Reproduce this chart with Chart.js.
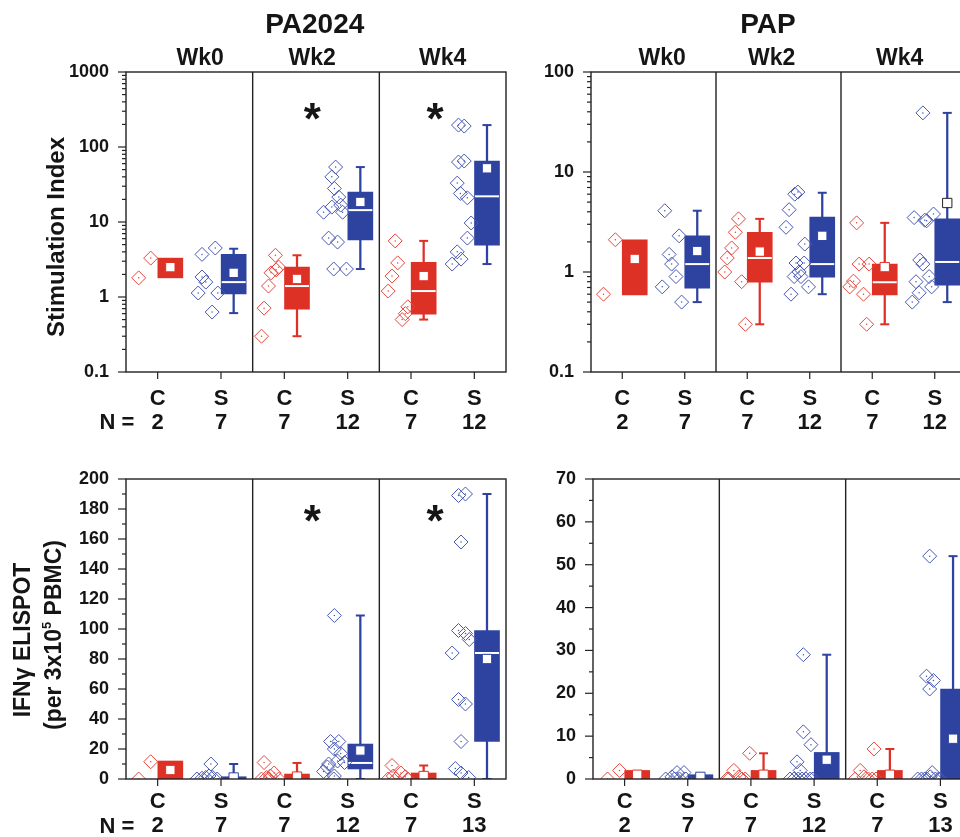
<!DOCTYPE html>
<html>
<head>
<meta charset="utf-8">
<script src="https://cdn.jsdelivr.net/npm/chart.js@4.4.1/dist/chart.umd.min.js"></script>
<style>
  html, body { margin: 0; padding: 0; background: #fff; }
  body { position: relative; width: 960px; height: 837px; overflow: hidden; }
  canvas { position: absolute; }
</style>
</head>
<body>
<canvas id="siPa" width="520" height="440" style="left:0;top:0"></canvas>
<canvas id="siPap" width="470" height="440" style="left:510px;top:0"></canvas>
<canvas id="elPa" width="520" height="407" style="left:0;top:430px"></canvas>
<canvas id="elPap" width="470" height="407" style="left:510px;top:430px"></canvas>
<script>
// columns, left to right: C Wk0, S Wk0, C Wk2, S Wk2, C Wk4, S Wk4
const groups = ["C", "S", "C", "S", "C", "S"];
const weeks = ["Wk0", "Wk2", "Wk4"];
const nTop = [2, 7, 7, 12, 7, 12];
const nBottom = [2, 7, 7, 12, 7, 13];

// PA2024 stimulation index
const siPaPts = [
  [1.8, 3.3],
  [3.7, 4.5, 1.85, 1.58, 1.13, 1.13, 0.63],
  [3.6, 2.5, 2.1, 2.3, 1.4, 0.71, 0.3],
  [54, 40, 28, 21.5, 15.8, 16.8, 13.5, 13.5, 6.1, 5.4, 2.36, 2.36],
  [5.6, 2.85, 1.9, 1.2, 0.74, 0.6, 0.5],
  [196, 190, 63, 65, 33, 24, 21, 9.7, 6.1, 4.0, 3.2, 2.75],
];
const siPaJit = [
  [-0.3, -0.11],
  [-0.3, -0.09, -0.3, -0.24, -0.36, -0.05, -0.14],
  [-0.14, -0.09, -0.21, -0.13, -0.25, -0.32, -0.36],
  [-0.19, -0.25, -0.21, -0.14, -0.25, -0.11, -0.38, -0.08, -0.3, -0.16, -0.22, -0.02],
  [-0.25, -0.21, -0.3, -0.36, -0.05, -0.09, -0.14],
  [-0.25, -0.16, -0.25, -0.16, -0.27, -0.22, -0.11, -0.05, -0.11, -0.27, -0.21, -0.35],
];
const siPaQ1 = [1.8, 1.1, 0.69, 5.75, 0.59, 4.9];
const siPaQ3 = [3.3, 3.7, 2.5, 25, 2.9, 65];
const siPaMed = [null, 1.58, 1.4, 14.4, 1.2, 22];
const siPaMean = [2.5, 2.1, 1.74, 18.5, 1.9, 52];
const siPaLo = [null, 0.61, 0.3, 2.36, 0.5, 2.75];
const siPaHi = [null, 4.4, 3.6, 54, 5.6, 196];

// PAP stimulation index
const siPapPts = [
  [0.6, 2.1],
  [4.1, 2.3, 1.5, 1.2, 0.9, 0.71, 0.5],
  [3.4, 2.5, 1.74, 1.38, 1.0, 0.8, 0.3],
  [6.3, 6.0, 4.2, 2.8, 1.9, 1.23, 1.23, 0.9, 0.9, 0.6, 0.71, 1.0],
  [3.1, 1.2, 1.2, 0.81, 0.71, 0.6, 0.3],
  [39, 3.5, 3.25, 3.8, 1.32, 1.2, 0.8, 0.9, 0.62, 0.71, 0.5, 3.3],
];
const siPapJit = [
  [-0.3, -0.11],
  [-0.32, -0.09, -0.25, -0.21, -0.14, -0.36, -0.05],
  [-0.14, -0.19, -0.25, -0.32, -0.36, -0.09, -0.03],
  [-0.19, -0.24, -0.33, -0.38, -0.08, -0.22, -0.09, -0.25, -0.14, -0.3, -0.02, -0.17],
  [-0.25, -0.21, -0.05, -0.3, -0.36, -0.14, -0.09],
  [-0.19, -0.33, -0.13, -0.02, -0.24, -0.19, -0.3, -0.09, -0.25, -0.05, -0.36, -0.16],
];
const siPapQ1 = [0.59, 0.69, 0.79, 0.89, 0.59, 0.74];
const siPapQ3 = [2.1, 2.3, 2.5, 3.55, 1.2, 3.4];
const siPapMed = [null, 1.2, 1.38, 1.2, 0.79, 1.26];
const siPapMean = [1.35, 1.62, 1.6, 2.3, 1.12, 4.9];
const siPapLo = [null, 0.5, 0.3, 0.6, 0.3, 0.5];
const siPapHi = [null, 4.1, 3.4, 6.2, 3.1, 39];

// PA2024 IFN-gamma ELISPOT
const elPaPts = [
  [0, 11.5],
  [10, 0, 0.5, 1, 2, 1, 0],
  [11, 4, 2, 0, 0, 0, 1],
  [109, 25, 25, 20, 17, 12, 10, 11, 5, 2, 0, 8],
  [9, 4, 0, 0, 1.5, 0, 2],
  [189, 190, 158, 99, 97, 93, 84, 53, 50, 25, 7, 4, 1],
];
const elPaJit = [
  [-0.3, -0.11],
  [-0.16, -0.38, -0.3, -0.24, -0.19, -0.13, -0.06],
  [-0.32, -0.16, -0.22, -0.36, -0.24, -0.09, -0.28],
  [-0.21, -0.27, -0.14, -0.21, -0.11, -0.16, -0.3, -0.05, -0.38, -0.21, -0.22, -0.32],
  [-0.3, -0.16, -0.36, -0.24, -0.09, -0.05, -0.28],
  [-0.25, -0.14, -0.21, -0.25, -0.14, -0.08, -0.35, -0.25, -0.14, -0.21, -0.3, -0.21, -0.09],
];
const elPaQ1 = [0, 0, 0, 6.7, 0, 25];
const elPaQ3 = [12, 1.5, 3.3, 23.3, 4, 99];
const elPaMed = [null, 0, 0, 10.7, 0, 84];
const elPaMean = [6, 1, 1.6, 19, 2, 80];
const elPaLo = [null, 0, 0, 0, 0, 0];
const elPaHi = [null, 10, 10.7, 109, 9, 190];

// PAP IFN-gamma ELISPOT
const elPapPts = [
  [0, 2],
  [0, 0.5, 0, 1.5, 0, 1.5, 0],
  [6, 2, 0, 0.5, 0, 0, 0],
  [29, 11, 8, 4, 2, 0, 0, 0, 0, 0, 0, 0],
  [7, 2, 0, 0.5, 0, 0, 0],
  [52, 24, 23, 21, 1.5, 0, 0, 0, 0, 0.5, 0, 0, 0],
];
const elPapJit = [
  [-0.27, -0.08],
  [-0.35, -0.25, -0.21, -0.17, -0.13, -0.06, -0.03],
  [-0.02, -0.27, -0.35, -0.19, -0.09, -0.14, -0.38],
  [-0.17, -0.17, -0.05, -0.27, -0.22, -0.38, -0.32, -0.25, -0.19, -0.13, -0.06, -0.02],
  [-0.05, -0.27, -0.35, -0.21, -0.14, -0.08, -0.02],
  [-0.17, -0.22, -0.11, -0.17, -0.13, -0.36, -0.3, -0.25, -0.21, -0.16, -0.08, -0.03, 0],
];
const elPapQ1 = [0, 0, 0, 0, 0, 0];
const elPapQ3 = [2, 1, 2, 6.2, 2, 21];
const elPapMed = [null, 0, 0, 0, 0, 0];
const elPapMean = [1, 0.5, 1, 4.5, 1, 9.4];
const elPapLo = [null, null, 0, 0, 0, 0];
const elPapHi = [null, null, 6, 29, 7, 52];

const FONT = '"Liberation Sans", Arial, Helvetica, sans-serif';
const INK = "#151515";
const RED = "#de3126";
const BLUE = "#2e43a0";
const RED_PT = "#e8453b";
const BLUE_PT = "#4657b3";
const tickAt = [0.5, 1.5, 2.5, 3.5, 4.5, 5.5];
const BOX_SHIFT = 0.2;

const side = (c) => (c.raw && Math.floor(c.raw.x) % 2 === 1 ? 1 : 0);
const boxCol = (c) => [RED, BLUE][side(c)];
const ptCol = (c) => [RED_PT, BLUE_PT][side(c)];

function logTicks(min, max) {
  const out = [];
  for (let e = Math.round(Math.log10(min)); e < Math.round(Math.log10(max)); e++) {
    for (let m = 1; m <= 9; m++) out.push(Number((m * Math.pow(10, e)).toPrecision(6)));
  }
  out.push(max);
  return out;
}
function linTicks(max, step) {
  const out = [];
  for (let v = 0; v <= max; v += step) out.push(v);
  return out;
}
const isPow10 = (v) => Math.abs(Math.log10(v) - Math.round(Math.log10(v))) < 1e-9;

function inkText(ctx, text, x, cy, size) {
  ctx.font = `bold ${size}px ${FONT}`;
  ctx.textAlign = "center";
  ctx.textBaseline = "alphabetic";
  const m = ctx.measureText(text);
  ctx.fillText(text, x, cy + (m.actualBoundingBoxAscent - m.actualBoundingBoxDescent) / 2);
}

// text runs with a superscript, centred on (0,0) in the current frame
function supText(ctx, runs, size) {
  let w = 0;
  runs.forEach((r) => {
    ctx.font = `bold ${r.sup ? Math.round(size * 0.55) : size}px ${FONT}`;
    r.w = ctx.measureText(r.t).width;
    w += r.w;
  });
  let x = -w / 2;
  ctx.textAlign = "left";
  ctx.textBaseline = "alphabetic";
  runs.forEach((r) => {
    ctx.font = `bold ${r.sup ? Math.round(size * 0.55) : size}px ${FONT}`;
    ctx.fillText(r.t, x, size * 0.3 + (r.sup ? -size * 0.42 : 0));
    x += r.w;
  });
}

const decor = {
  id: "decor",
  afterDatasetsDraw(chart, args, o) {
    const { ctx, chartArea: a } = chart;
    const x = chart.scales.x;
    const y = chart.scales.y;
    const line = (x1, y1, x2, y2) => {
      ctx.beginPath();
      ctx.moveTo(x1, y1);
      ctx.lineTo(x2, y2);
      ctx.stroke();
    };
    ctx.save();
    ctx.strokeStyle = "#222";
    ctx.lineWidth = 1.4;
    [2, 4].forEach((v) => {
      const px = x.getPixelForValue(v);
      line(px, a.top, px, a.bottom);
    });
    ctx.strokeRect(a.left, a.top, a.right - a.left, a.bottom - a.top);
    ctx.lineWidth = 1.2;
    y.ticks.forEach((t) => {
      const py = y.getPixelForValue(t.value);
      const len = t.label !== "" ? 8 : 4;
      line(a.left - len, py, a.left, py);
    });
    x.ticks.forEach((t) => {
      const px = x.getPixelForValue(t.value);
      line(px, a.bottom, px, a.bottom + 7);
    });

    ctx.fillStyle = INK;
    if (o.title) inkText(ctx, o.title, x.getPixelForValue(o.titleAt), o.titleY, 28);
    if (o.weekAt) weeks.forEach((w, i) => inkText(ctx, w, x.getPixelForValue(o.weekAt[i]), o.weekY, 23));
    (o.stars || []).forEach((v) => inkText(ctx, "*", x.getPixelForValue(v), o.starY, 44));
    if (o.nLabel) inkText(ctx, "N =", o.nLabel[0], o.nLabel[1], 22);
    (o.yTitle || []).forEach((t) => {
      ctx.save();
      ctx.translate(t.x, t.y);
      ctx.rotate(-Math.PI / 2);
      if (t.runs) supText(ctx, t.runs, t.size);
      else inkText(ctx, t.text, 0, 0, t.size);
      ctx.restore();
    });
    ctx.restore();
  },
};

function panel(id, p) {
  const idx = [0, 1, 2, 3, 4, 5];
  const cx = (i) => tickAt[i] + BOX_SHIFT;
  const hasW = (i) => p.lo[i] !== null;

  const whiskers = idx.filter(hasW).map((i) => ({ x: cx(i), y: [p.lo[i], p.hi[i]] }));
  const caps = [];
  idx.filter(hasW).forEach((i) => {
    if (p.hi[i] > p.q3[i]) caps.push({ x: cx(i), y: p.hi[i] });
    if (p.lo[i] < p.q1[i]) caps.push({ x: cx(i), y: p.lo[i] });
  });
  const boxes = idx.map((i) => ({ x: cx(i), y: [p.q1[i], p.q3[i]] }));
  // n = 2 columns have no visible median; a median on the box floor is hidden too
  const medians = idx
    .filter((i) => p.med[i] !== null && p.med[i] > p.q1[i])
    .map((i) => ({ x: cx(i), y: p.med[i] }));
  const means = idx.map((i) => ({ x: cx(i), y: p.mean[i] }));
  const pts = [];
  p.pts.forEach((list, i) => list.forEach((v, k) => pts.push({ x: tickAt[i] + p.jit[i][k], y: v })));

  const tickFont = { family: FONT, weight: "bold" };

  return new Chart(document.getElementById(id), {
    type: "bar",
    data: {
      datasets: [
        { type: "bar", data: whiskers, backgroundColor: boxCol, barThickness: 1.6, grouped: false, order: 6 },
        {
          type: "scatter", data: caps, pointStyle: "line", pointRadius: 4.5,
          pointBorderWidth: 2, pointBorderColor: boxCol, order: 5,
        },
        { type: "bar", data: boxes, backgroundColor: boxCol, barThickness: 25, grouped: false, order: 4 },
        {
          type: "scatter", data: medians, pointStyle: "line", pointRadius: 12,
          pointBorderWidth: 2, pointBorderColor: "#fff", order: 3,
        },
        {
          type: "scatter", data: means, pointStyle: "rect", pointRadius: 6.6,
          pointBackgroundColor: "#fff", pointBorderWidth: 1, clip: 0,
          pointBorderColor: (c) => (p.mean[c.dataIndex] > p.q3[c.dataIndex] ? "#222" : boxCol(c)),
          order: 2,
        },
        {
          type: "scatter", data: pts, pointStyle: "rectRot", pointRadius: 7,
          pointBorderWidth: 1, pointBorderColor: ptCol, pointBackgroundColor: "rgba(0,0,0,0)",
          clip: 0, order: 1,
        },
        {
          type: "scatter", data: pts, pointStyle: "circle", pointRadius: 0.75,
          pointBorderWidth: 0, pointBackgroundColor: ptCol, clip: 0, order: 0,
        },
      ],
    },
    options: {
      responsive: false,
      animation: false,
      events: [],
      layout: { padding: p.pad },
      plugins: { legend: { display: false }, tooltip: { enabled: false }, decor: p.decor },
      scales: {
        x: {
          type: "linear", min: 0, max: 6, offset: false,
          grid: { display: false }, border: { display: false },
          afterBuildTicks: (s) => { s.ticks = tickAt.map((v) => ({ value: v })); },
          afterFit: (s) => { s.height = p.xh; },
          ticks: {
            autoSkip: false, maxRotation: 0, minRotation: 0, padding: p.xpad, color: INK,
            font: { ...tickFont, size: 22, lineHeight: 1.1 },
            callback: (v, i) => [groups[i], String(p.n[i])],
          },
        },
        y: {
          type: p.log ? "logarithmic" : "linear", min: p.yMin, max: p.yMax,
          grid: { display: false }, border: { display: false },
          afterBuildTicks: (s) => { s.ticks = p.yTicks.map((v) => ({ value: v })); },
          afterFit: (s) => { s.width = p.yw; },
          ticks: { autoSkip: false, padding: 9, color: INK, font: { ...tickFont, size: 18 }, callback: p.yLabel },
        },
      },
    },
    plugins: [decor],
  });
}

const logLabel = (v) => (isPow10(v) ? String(v) : "");

panel("siPa", {
  pts: siPaPts, jit: siPaJit, q1: siPaQ1, q3: siPaQ3, med: siPaMed, mean: siPaMean, lo: siPaLo, hi: siPaHi,
  n: nTop, log: true, yMin: 0.1, yMax: 1000, yTicks: logTicks(0.1, 1000), yLabel: logLabel,
  pad: { left: 0, right: 14, top: 72, bottom: 0 }, yw: 126, xh: 68, xpad: 7,
  decor: {
    title: "PA2024", titleAt: 2.98, titleY: 23, weekAt: [1.17, 2.94, 5.0], weekY: 56,
    stars: [2.94, 4.88], starY: 111, nLabel: [117, 421],
    yTitle: [{ text: "Stimulation Index", x: 55, y: 237, size: 24 }],
  },
});

panel("siPap", {
  pts: siPapPts, jit: siPapJit, q1: siPapQ1, q3: siPapQ3, med: siPapMed, mean: siPapMean, lo: siPapLo, hi: siPapHi,
  n: nTop, log: true, yMin: 0.1, yMax: 100, yTicks: logTicks(0.1, 100), yLabel: logLabel,
  pad: { left: 0, right: 9, top: 72, bottom: 0 }, yw: 81, xh: 68, xpad: 7,
  decor: { title: "PAP", titleAt: 2.83, titleY: 23, weekAt: [1.14, 2.89, 4.94], weekY: 56 },
});

panel("elPa", {
  pts: elPaPts, jit: elPaJit, q1: elPaQ1, q3: elPaQ3, med: elPaMed, mean: elPaMean, lo: elPaLo, hi: elPaHi,
  n: nBottom, log: false, yMin: 0, yMax: 200, yTicks: linTicks(200, 10), yLabel: (v) => (v % 20 === 0 ? String(v) : ""),
  pad: { left: 0, right: 14, top: 49, bottom: 0 }, yw: 126, xh: 58, xpad: 3,
  decor: {
    stars: [2.94, 4.88], starY: 83, nLabel: [117, 395],
    yTitle: [
      { text: "IFN\u03b3 ELISPOT", x: 24, y: 210, size: 23 },
      { runs: [{ t: "(per 3x10" }, { t: "5", sup: true }, { t: " PBMC)" }], x: 54, y: 205, size: 23 },
    ],
  },
});

panel("elPap", {
  pts: elPapPts, jit: elPapJit, q1: elPapQ1, q3: elPapQ3, med: elPapMed, mean: elPapMean, lo: elPapLo, hi: elPapHi,
  n: nBottom, log: false, yMin: 0, yMax: 70, yTicks: linTicks(70, 5), yLabel: (v) => (v % 10 === 0 ? String(v) : ""),
  pad: { left: 0, right: 7, top: 49, bottom: 0 }, yw: 83, xh: 58, xpad: 3,
  decor: {},
});
</script>
</body>
</html>
